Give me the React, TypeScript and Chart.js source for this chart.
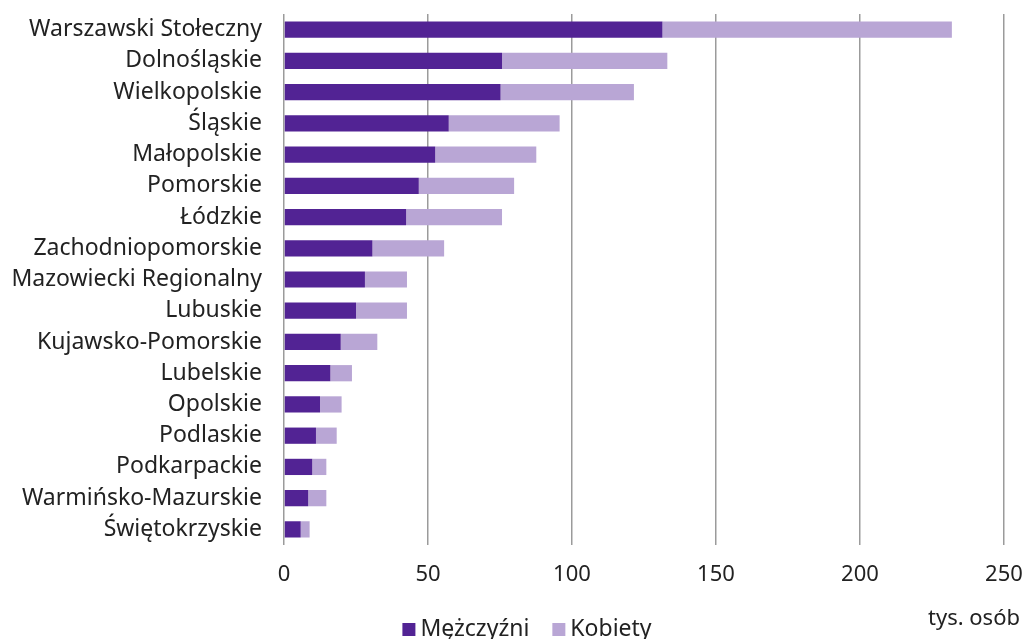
import React, { useEffect, useRef } from "react";
import { Chart, registerables } from "chart.js";

Chart.register(...registerables);

const categories = [
  "Warszawski Stołeczny",
  "Dolnośląskie",
  "Wielkopolskie",
  "Śląskie",
  "Małopolskie",
  "Pomorskie",
  "Łódzkie",
  "Zachodniopomorskie",
  "Mazowiecki Regionalny",
  "Lubuskie",
  "Kujawsko-Pomorskie",
  "Lubelskie",
  "Opolskie",
  "Podlaskie",
  "Podkarpackie",
  "Warmińsko-Mazurskie",
  "Świętokrzyskie",
];

const men = [131.4, 75.7, 75.2, 57.2, 52.5, 46.8, 42.4, 30.7, 28.1, 25.0, 19.7, 16.1, 12.5, 11.1, 9.8, 8.4, 5.8];
const women = [100.5, 57.4, 46.3, 38.5, 35.1, 33.1, 33.3, 24.9, 14.6, 17.7, 12.7, 7.5, 7.5, 7.2, 4.9, 6.3, 3.1];

const seriesNames = ["Mężczyźni", "Kobiety"];
const seriesColors = ["#522394", "#B9A6D5"];
const xTicks = [0, 50, 100, 150, 200, 250];
const unitLabel = "tys. osób";

const FONT = "'Noto Sans', sans-serif";
const TEXT = "#222222";

export default function App() {
  const ref = useRef<HTMLCanvasElement | null>(null);

  useEffect(() => {
    document.body.style.margin = "0";
    const canvas = ref.current;
    if (!canvas) return;

    const extrasPlugin = {
      id: "extras",
      afterDraw(chart: any) {
        const ctx = chart.ctx;
        const bottom = chart.chartArea.bottom;
        ctx.save();
        // unit label
        ctx.font = `22px ${FONT}`;
        ctx.fillStyle = TEXT;
        ctx.textAlign = "right";
        ctx.textBaseline = "alphabetic";
        ctx.fillText(unitLabel, chart.width - 4, bottom + 80);
        // legend
        ctx.font = `23px ${FONT}`;
        const box = 13;
        const gapText = 5;
        const gapItem = 23;
        const widths = seriesNames.map((n) => ctx.measureText(n).width);
        const total = widths.reduce((a, w) => a + box + gapText + w, 0) + gapItem * (seriesNames.length - 1);
        let x = chart.width / 2 + 15 - total / 2;
        const baseline = bottom + 91;
        ctx.textAlign = "left";
        seriesNames.forEach((n, i) => {
          ctx.fillStyle = seriesColors[i];
          ctx.fillRect(x, baseline - 13, box, box);
          x += box + gapText;
          ctx.fillStyle = TEXT;
          ctx.fillText(n, x, baseline);
          x += widths[i] + gapItem;
        });
        ctx.restore();
      },
    };

    const chart = new Chart(canvas, {
      type: "bar",
      data: {
        labels: categories,
        datasets: seriesNames.map((name, i) => ({
          label: name,
          data: i === 0 ? men : women,
          backgroundColor: seriesColors[i],
          borderWidth: 0,
          categoryPercentage: 0.52,
          barPercentage: 1,
        })),
      },
      options: {
        indexAxis: "y",
        animation: false,
        responsive: false,
        maintainAspectRatio: false,
        layout: { padding: { left: 0, right: 20, top: 14, bottom: 0 } },
        scales: {
          x: {
            stacked: true,
            min: 0,
            max: 250,
            afterBuildTicks: (scale: any) => {
              scale.ticks = xTicks.map((v) => ({ value: v }));
            },
            afterFit: (scale: any) => {
              scale.height = 94;
              scale.paddingLeft = 0;
              scale.paddingRight = 0;
            },
            grid: {
              color: "#9b9b9b",
              lineWidth: 1.5,
              drawTicks: false,
            },
            border: { display: false },
            ticks: {
              padding: 17,
              color: TEXT,
              font: { family: FONT, size: 22 },
              maxRotation: 0,
            },
          },
          y: {
            stacked: true,
            afterFit: (scale: any) => {
              scale.width = 284;
              scale.paddingTop = 0;
              scale.paddingBottom = 0;
            },
            grid: { display: false, drawTicks: false },
            border: { display: false },
            ticks: {
              padding: 22,
              color: TEXT,
              font: { family: FONT, size: 23 },
              autoSkip: false,
            },
          },
        },
        plugins: {
          legend: { display: false },
          tooltip: { enabled: false },
        },
      },
      plugins: [extrasPlugin],
    });

    return () => chart.destroy();
  }, []);

  return (
    <div style={{ position: "fixed", left: 0, top: 0, width: 1024, height: 639 }}>
      <canvas ref={ref} width={1024} height={639} style={{ width: 1024, height: 639 }} />
    </div>
  );
}
